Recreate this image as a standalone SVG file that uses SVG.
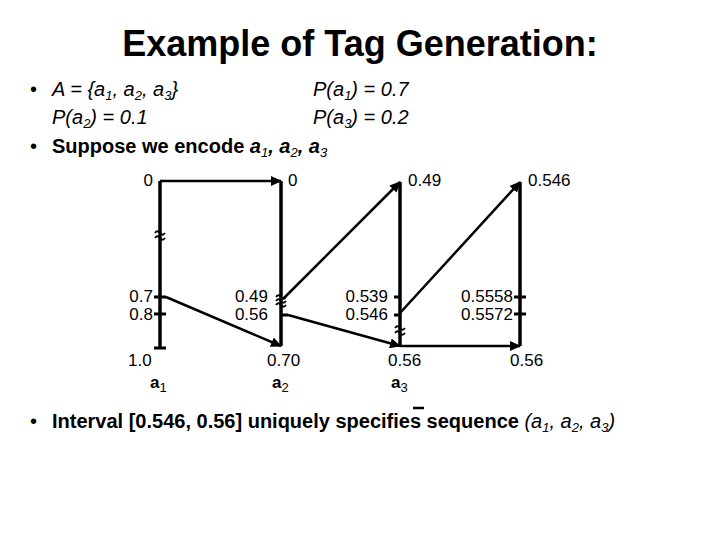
<svg xmlns="http://www.w3.org/2000/svg" width="720" height="540" viewBox="0 0 720 540">
<style>
text{font-family:"Liberation Sans",Arial,sans-serif;fill:#000}
.title{font-size:36px;font-weight:bold}
.b{font-size:20px}
.it{font-style:italic}
.bd{font-weight:bold}
.lbl{font-size:17px}
.sub{font-size:13px}
.axis{stroke:#000;stroke-width:3.5;fill:none}
.tick{stroke:#000;stroke-width:3;fill:none}
.arr{stroke:#000;stroke-width:2.5;fill:none;marker-end:url(#ah)}
.sq{stroke:#000;stroke-width:1.8;fill:none}
</style>
<defs>
<marker id="ah" markerUnits="userSpaceOnUse" markerWidth="12" markerHeight="10" refX="10" refY="5" orient="auto">
<path d="M0,0 L11,5 L0,10 Z" fill="#000"/>
</marker>
</defs>
<rect width="720" height="540" fill="#fff"/>
<text class="title" x="360" y="56" text-anchor="middle">Example of Tag Generation:</text>

<g id="bullets">
<text class="b" x="30" y="96">•</text>
<text class="b it" x="52" y="96">A = {a<tspan class="sub" dy="4">1</tspan><tspan dy="-4">, a</tspan><tspan class="sub" dy="4">2</tspan><tspan dy="-4">, a</tspan><tspan class="sub" dy="4">3</tspan><tspan dy="-4">}</tspan></text>
<text class="b it" x="313" y="96">P(a<tspan class="sub" dy="4">1</tspan><tspan dy="-4">) = 0.7</tspan></text>
<text class="b it" x="52" y="124">P(a<tspan class="sub" dy="4">2</tspan><tspan dy="-4">) = 0.1</tspan></text>
<text class="b it" x="313" y="124">P(a<tspan class="sub" dy="4">3</tspan><tspan dy="-4">) = 0.2</tspan></text>
<text class="b" x="30" y="153">•</text>
<text class="b" x="52" y="153"><tspan class="bd">Suppose we encode </tspan><tspan class="bd it">a</tspan><tspan class="sub it" dy="4">1</tspan><tspan class="bd it" dy="-4">, a</tspan><tspan class="sub it" dy="4">2</tspan><tspan class="bd it" dy="-4">, a</tspan><tspan class="sub it" dy="4">3</tspan></text>
<text class="b" x="30" y="428">•</text>
<text class="b" x="52" y="428"><tspan class="bd">Interval [0.546, 0.56] uniquely specifies sequence </tspan><tspan class="it">(a</tspan><tspan class="sub it" dy="4">1</tspan><tspan class="it" dy="-4">, a</tspan><tspan class="sub it" dy="4">2</tspan><tspan class="it" dy="-4">, a</tspan><tspan class="sub it" dy="4">3</tspan><tspan class="it" dy="-4">)</tspan></text>
<line x1="413" y1="408" x2="424" y2="408" stroke="#000" stroke-width="2.5"/>
</g>

<g id="interval1">
<line class="axis" x1="160" y1="181" x2="160" y2="348"/>
<line class="tick" x1="154" y1="348" x2="166" y2="348"/>
<line class="tick" x1="154" y1="297" x2="166" y2="297"/>
<line class="tick" x1="154" y1="314" x2="166" y2="314"/>
<path class="sq" d="M155,233 q2.5,-3.5 5,0 t5,0 M155,238 q2.5,-3.5 5,0 t5,0"/>
<text class="lbl" x="153" y="186" text-anchor="end">0</text>
<text class="lbl" x="153" y="302" text-anchor="end">0.7</text>
<text class="lbl" x="153" y="320" text-anchor="end">0.8</text>
<text class="lbl" x="128" y="366">1.0</text>
<text class="lbl" x="150" y="388"><tspan class="bd">a</tspan><tspan class="sub" dy="4">1</tspan></text>
</g>

<g id="interval2">
<line class="axis" x1="281" y1="181" x2="281" y2="346"/>
<line class="tick" x1="281" y1="315" x2="288" y2="315"/>
<path class="sq" d="M276,297 q2.5,-3.5 5,0 t5,0 M276,301 q2.5,-3.5 5,0 t5,0 M276,305 q2.5,-3.5 5,0 t5,0"/>
<text class="lbl" x="288" y="186">0</text>
<text class="lbl" x="268" y="302" text-anchor="end">0.49</text>
<text class="lbl" x="268" y="320" text-anchor="end">0.56</text>
<text class="lbl" x="267" y="366">0.70</text>
<text class="lbl" x="272" y="388"><tspan class="bd">a</tspan><tspan class="sub" dy="4">2</tspan></text>
</g>

<g id="interval3">
<line class="axis" x1="400" y1="182" x2="400" y2="346"/>
<line class="tick" x1="394" y1="297" x2="400" y2="297"/>
<line class="tick" x1="394" y1="315" x2="400" y2="315"/>
<path class="sq" d="M395,328 q2.5,-3.5 5,0 t5,0 M395,333 q2.5,-3.5 5,0 t5,0"/>
<text class="lbl" x="408" y="186">0.49</text>
<text class="lbl" x="388" y="302" text-anchor="end">0.539</text>
<text class="lbl" x="388" y="320" text-anchor="end">0.546</text>
<text class="lbl" x="388" y="366">0.56</text>
<text class="lbl" x="391" y="388"><tspan class="bd">a</tspan><tspan class="sub" dy="4">3</tspan></text>
</g>

<g id="interval4">
<line class="axis" x1="520" y1="182" x2="520" y2="346"/>
<line class="tick" x1="514" y1="297" x2="526" y2="297"/>
<line class="tick" x1="514" y1="314" x2="526" y2="314"/>
<text class="lbl" x="528" y="186">0.546</text>
<text class="lbl" x="513" y="302" text-anchor="end">0.5558</text>
<text class="lbl" x="513" y="320" text-anchor="end">0.5572</text>
<text class="lbl" x="510" y="366">0.56</text>
</g>

<g id="connectors">
<line class="arr" x1="160" y1="181" x2="281" y2="181"/>
<line class="arr" x1="166" y1="297" x2="281" y2="346"/>
<line class="arr" x1="283" y1="299" x2="400" y2="182"/>
<line class="arr" x1="288" y1="315" x2="400" y2="346"/>
<line class="arr" x1="400" y1="313" x2="520" y2="182"/>
<line class="arr" x1="400" y1="346" x2="520" y2="346"/>
</g>
</svg>
